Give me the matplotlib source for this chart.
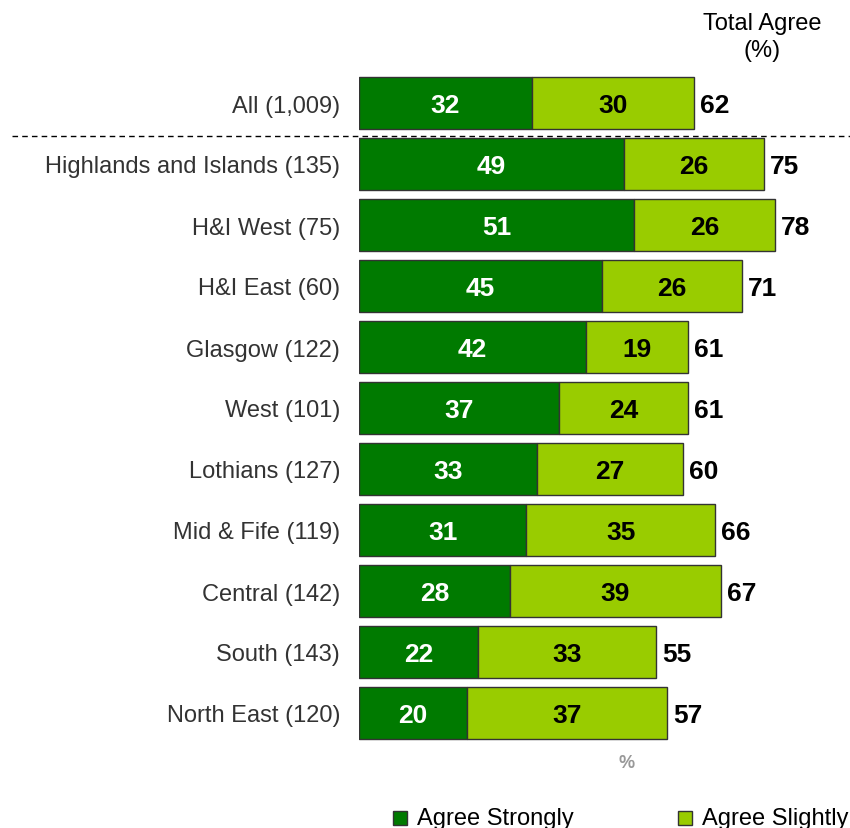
import matplotlib.pyplot as plt
from matplotlib.patches import Rectangle

plt.rcParams['font.family'] = ['Liberation Sans', 'DejaVu Sans']

# data
regions = ['All (1,009)', 'Highlands and Islands (135)', 'H&I West (75)', 'H&I East (60)',
           'Glasgow (122)', 'West (101)', 'Lothians (127)', 'Mid & Fife (119)',
           'Central (142)', 'South (143)', 'North East (120)']
agree_strongly = [32, 49, 51, 45, 42, 37, 33, 31, 28, 22, 20]
agree_slightly = [30, 26, 26, 26, 19, 24, 27, 35, 39, 33, 37]
total_agree = [62, 75, 78, 71, 61, 61, 60, 66, 67, 55, 57]
legend_labels = ['Agree Strongly', 'Agree Slightly']

dark_green = '#007A00'
light_green = '#99CC00'
edge = '#333333'

fig = plt.figure(figsize=(8.5, 8.29), dpi=100)
ax = fig.add_axes([359 / 850, 1 - 744.5 / 829, 486 / 850, 671 / 829])

y = list(range(len(regions)))
h = 0.84
ax.barh(y, agree_strongly, height=h, color=dark_green, edgecolor=edge, linewidth=1)
ax.barh(y, agree_slightly, left=agree_strongly, height=h, color=light_green,
        edgecolor=edge, linewidth=1)

# value labels (nudged down a touch so digits sit centred in the bars)
dy = 0.04
for i in y:
    s = agree_strongly[i]
    l = agree_slightly[i]
    ax.text(s / 2, i + dy, str(s), ha='center', va='center', color='white',
            fontsize=19, fontweight='bold')
    ax.text(s + l / 2, i + dy, str(l), ha='center', va='center', color='black',
            fontsize=19, fontweight='bold')
    ax.text(s + l + 1.1, i + dy, str(total_agree[i]), ha='left', va='center',
            color='black', fontsize=19, fontweight='bold')

ax.set_xlim(0, 90)
ax.set_ylim(10.5, -0.5)
ax.set_yticks(y)
ax.set_yticklabels(regions, fontsize=17, color='#333333')
ax.tick_params(axis='y', length=0, pad=13.5)
ax.set_xticks([])
for sp in ax.spines.values():
    sp.set_visible(False)

# dashed separator under "All"
fig.add_artist(plt.Line2D([12 / 850, 1.0], [1 - 137 / 829, 1 - 137 / 829],
                          color='black', linestyle=(0, (4, 3)), linewidth=1))

fig.text(762 / 850, 1 - 24 / 829, 'Total Agree', ha='center', va='center',
         fontsize=17, color='black')
fig.text(762 / 850, 1 - 51 / 829, '(%)', ha='center', va='center',
         fontsize=17, color='black')
fig.text(627 / 850, 1 - 764 / 829, '%', ha='center', va='center', fontsize=13,
         color='#999999', fontweight='bold')

# legend drawn by hand so it sits where the reference has it
for xs, xt, col, lab in [(393, 417, dark_green, legend_labels[0]),
                         (678, 702, light_green, legend_labels[1])]:
    fig.add_artist(Rectangle((xs / 850, 1 - 826 / 829), 14 / 850, 14 / 829,
                             facecolor=col, edgecolor=edge, linewidth=1,
                             transform=fig.transFigure))
    fig.text(xt / 850, 1 - 819 / 829, lab, ha='left', va='center', fontsize=17,
             color='black')

fig.savefig('out.png', dpi=100)
